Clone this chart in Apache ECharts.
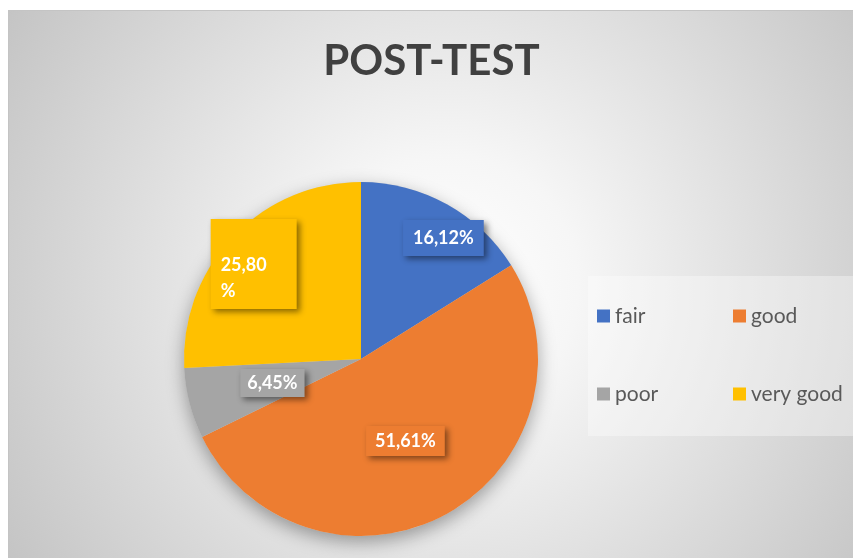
<!DOCTYPE html>
<html>
<head>
<meta charset="utf-8">
<script src="https://cdn.jsdelivr.net/npm/echarts@6/dist/echarts.min.js"></script>
<style>
  html, body { margin: 0; padding: 0; background: #fff; overflow: hidden; }
  #chart { position: absolute; left: 8px; top: 10px; width: 845px; height: 548px; border-top: 1px solid #c4c4c4; border-left: 1px solid #c4c4c4; }
</style>
</head>
<body>
<div id="chart"></div>
<script>
// 数据
var categories = ['fair', 'good', 'poor', 'very good'];
var percents = [16.12, 51.61, 6.45, 25.80];
var colors = ['#4472C4', '#ED7D31', '#A5A5A5', '#FFC000'];

// 标签样式（位置微调）
var labelStyles = [
  { offset: [38, -41], padding: [9, 10] },
  { offset: [0, 2], padding: [6, 9] },
  { offset: [0, 1], padding: [5, 7] },
  { offset: [-41, -32], padding: [33, 20, 5, 10], width: 56, overflow: 'breakAll', lineHeight: 26 }
];

var myChart = echarts.init(document.getElementById('chart'));

var total = percents.reduce(function (a, b) { return a + b; }, 0);

var pieData = categories.map(function (name, i) {
  var item = { name: name, value: percents[i], itemStyle: { color: colors[i] } };
  item.label = Object.assign({ backgroundColor: colors[i] }, labelStyles[i]);
  return item;
});

var option = {
  backgroundColor: {
    type: 'radial', x: 0.52, y: 0.5, r: 0.95,
    colorStops: [
      { offset: 0, color: '#ffffff' },
      { offset: 0.25, color: '#f6f6f6' },
      { offset: 1, color: '#c4c4c4' }
    ]
  },
  title: {
    text: 'POST-TEST',
    left: 'center',
    top: 24,
    textStyle: { fontFamily: 'Lato', fontWeight: 'bold', fontSize: 42, color: '#404040' }
  },
  legend: {
    data: categories,
    orient: 'horizontal',
    left: 579,
    top: 265,
    width: 270,
    padding: [6, 10, 8, 9],
    itemGap: 10,
    itemWidth: 13,
    itemHeight: 13,
    icon: 'rect',
    backgroundColor: 'rgba(255,255,255,0.35)',
    textStyle: { fontFamily: 'Lato', fontSize: 21, color: '#595959', width: 108, lineHeight: 68 }
  },
  series: [
    {
      // 底部阴影
      type: 'pie',
      silent: true,
      center: [352, 348],
      radius: 177,
      z: 1,
      label: { show: false },
      labelLine: { show: false },
      itemStyle: { color: '#d0d0d0', shadowBlur: 18, shadowOffsetY: 6, shadowColor: 'rgba(0,0,0,0.35)' },
      data: [{ name: '', value: total }]
    },
    {
      name: 'POST-TEST',
      type: 'pie',
      center: [352, 348],
      radius: 177,
      startAngle: 90,
      z: 2,
      label: {
        show: true,
        position: 'inside',
        color: '#ffffff',
        fontFamily: 'Lato',
        fontWeight: 'bold',
        fontSize: 18,
        shadowBlur: 6,
        shadowOffsetX: 3,
        shadowOffsetY: 3,
        shadowColor: 'rgba(0,0,0,0.45)',
        formatter: function (p) {
          return '{t|' + p.value.toFixed(2).replace('.', ',') + '%}';
        },
        rich: {
          t: { align: 'left', color: '#ffffff', fontFamily: 'Lato', fontWeight: 'bold', fontSize: 18 }
        }
      },
      labelLine: { show: false },
      emphasis: { scale: false },
      itemStyle: { borderWidth: 0 },
      data: pieData
    }
  ]
};

myChart.setOption(option);
</script>
</body>
</html>
